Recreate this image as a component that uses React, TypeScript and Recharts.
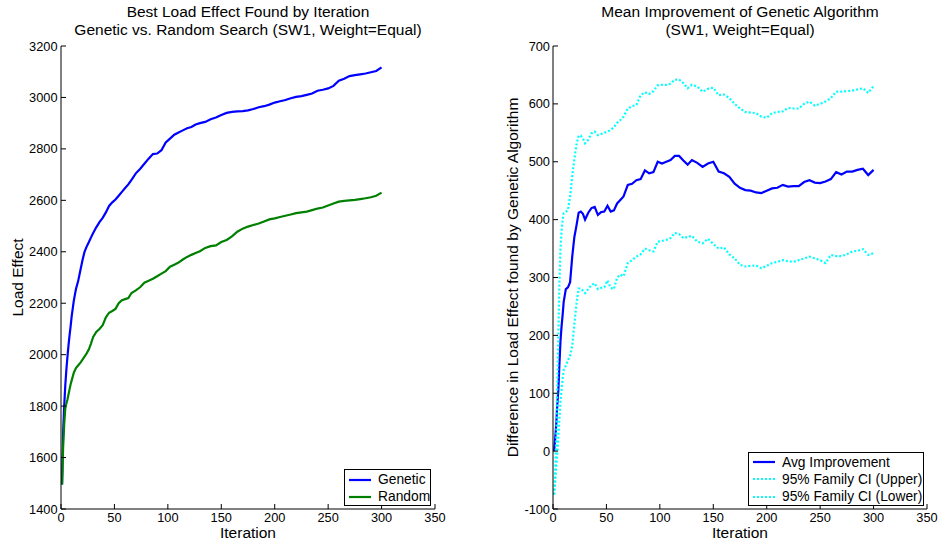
import * as React from "react"
import { LineChart, Line, XAxis, YAxis, Legend } from "recharts"

// iteration numbers where the curves were sampled
const iterations = [
  1, 2, 3, 4, 5, 6, 7, 8, 9, 10,
  12, 14, 16, 18, 20, 22, 24, 26, 28, 30,
  33, 36, 39, 42, 45, 48, 51, 54, 57, 60,
  63, 66, 70, 74, 78, 82, 86, 90, 94, 98,
  102, 106, 110, 114, 118, 122, 126, 130,
  135, 140, 145, 150, 155, 160, 165, 170, 175, 180,
  185, 190, 195, 200, 205, 210, 215, 220, 225, 230,
  235, 240, 245, 250, 255, 260, 265, 270, 275, 280,
  285, 290, 295, 300,
]

const genetic = [
  1495, 1700, 1800, 1880, 1940, 1990, 2035, 2075, 2110, 2150,
  2210, 2255, 2285, 2325, 2365, 2400, 2420, 2437, 2455, 2472,
  2495, 2515, 2532, 2553, 2578, 2592, 2603, 2618, 2633, 2648,
  2662, 2680, 2705, 2722, 2742, 2762, 2780, 2782, 2795, 2825,
  2840, 2855, 2864, 2872, 2880, 2885, 2895, 2900,
  2905, 2915, 2922, 2932, 2940, 2944, 2946, 2947, 2950, 2955,
  2962, 2966, 2972, 2980, 2985, 2990, 2997, 3002, 3005, 3010,
  3015, 3026, 3030, 3035, 3045, 3065, 3073, 3083, 3087, 3090,
  3093, 3098, 3103, 3117,
]

const random = [
  1495, 1640, 1730, 1790, 1810, 1825, 1845, 1865, 1885, 1900,
  1930, 1948, 1958, 1968, 1980, 1992, 2005, 2020, 2042, 2068,
  2088, 2100, 2115, 2145, 2163, 2170, 2178, 2200, 2212, 2216,
  2220, 2240, 2250, 2262, 2280, 2287, 2295, 2305, 2315, 2325,
  2342, 2350, 2358, 2370, 2380, 2388, 2395, 2402,
  2415, 2422, 2425, 2438, 2446, 2460, 2478, 2490, 2498, 2504,
  2510, 2518, 2526, 2530, 2535, 2540, 2545, 2550, 2553, 2556,
  2562, 2568, 2572, 2580, 2588, 2595, 2598, 2600, 2602, 2605,
  2608, 2612, 2618, 2630,
]

const avgImprovement = [
  0, 20, 45, 80, 105, 150, 190, 215, 235, 258,
  280, 283, 292, 336, 370, 390, 412, 414, 410, 400,
  412, 420, 422, 408, 413, 414, 424, 414, 416, 428,
  434, 440, 460, 462, 468, 470, 485, 480, 482, 500,
  497, 500, 503, 510, 510, 502, 495, 503,
  498, 491, 497, 500, 483, 480, 474, 462, 455, 451,
  450, 447, 446, 450, 454, 455, 460, 457, 458, 458,
  465, 468, 464, 463, 466, 470, 482, 478, 483, 483,
  486, 488, 477, 486,
]

const ciUpper = [
  -75, -40, 20, 110, 200, 290, 350, 380, 400, 411,
  413, 417, 440, 475, 505, 530, 545, 545, 540, 532,
  538, 549, 552, 546, 548, 550, 552, 555, 560, 567,
  572, 578, 592, 596, 598, 615, 620, 617, 622, 632,
  633, 633, 635, 642, 642, 636, 627, 633,
  630, 621, 626, 628, 615, 616, 610, 600, 592, 586,
  585, 584, 578, 576, 584, 586, 587, 593, 592, 592,
  600, 604, 597, 600, 604, 610, 621, 621, 622, 623,
  625, 627, 619, 631,
]

const ciLower = [
  -75, -55, -25, -5, 25, 55, 85, 105, 125, 140,
  148, 157, 165, 182, 220, 255, 281, 281, 277, 273,
  280, 287, 290, 280, 282, 283, 295, 282, 280, 300,
  305, 302, 325, 330, 336, 340, 350, 347, 345, 362,
  363, 365, 368, 377, 375, 368, 370, 372,
  362, 359, 367, 358, 350, 352, 340, 333, 322, 319,
  320, 321, 316, 320, 325, 327, 330, 328, 327, 330,
  333, 336, 333, 330, 325, 339, 337, 337, 340, 345,
  346, 349, 339, 342,
]

const xTicks = [0, 50, 100, 150, 200, 250, 300, 350]
const loadTicks = [1400, 1600, 1800, 2000, 2200, 2400, 2600, 2800, 3000, 3200]
const diffTicks = [-100, 0, 100, 200, 300, 400, 500, 600, 700]

const searchData = iterations.map((iter, i) => ({ iter, genetic: genetic[i], random: random[i] }))
const diffData = iterations.map((iter, i) => ({
  iter,
  avg: avgImprovement[i],
  upper: ciUpper[i],
  lower: ciLower[i],
}))

const FONT = "'Liberation Sans', Arial, sans-serif"
const tickStyle = { fill: "#000", fontSize: 12.8 }
const axisStroke = { stroke: "#000" }
const labelStyle = { fill: "#000", fontSize: 15.5, textAnchor: "middle" as const }
const blank = () => ""

function BoxLegend({ payload, rowHeight, padTop, order }: any) {
  const items = [...(payload || [])].sort(
    (a: any, b: any) => order.indexOf(a.dataKey) - order.indexOf(b.dataKey)
  )
  return (
    <div
      style={{
        boxSizing: "border-box",
        border: "1px solid #000",
        background: "#fff",
        paddingTop: padTop,
        fontFamily: FONT,
        fontSize: 13.8,
        color: "#000",
        width: "100%",
        height: "100%",
      }}
    >
      {items.map((entry: any) => (
        <div key={entry.value} style={{ display: "flex", alignItems: "center", height: rowHeight }}>
          <svg width={29} height={6} style={{ marginLeft: 4, flex: "none" }}>
            <line
              x1={0}
              x2={22}
              y1={3}
              y2={3}
              stroke={entry.color}
              strokeWidth={2.2}
              strokeDasharray={entry.payload?.strokeDasharray}
            />
          </svg>
          <span style={{ whiteSpace: "nowrap" }}>{entry.value}</span>
        </div>
      ))}
    </div>
  )
}

function Title({ lines, center }: { lines: string[]; center: number }) {
  return (
    <div
      style={{
        position: "absolute",
        left: center - 220,
        width: 440,
        top: 3,
        textAlign: "center",
        fontSize: 15.5,
        lineHeight: "18px",
        color: "#000",
      }}
    >
      {lines.map((l) => (
        <div key={l}>{l}</div>
      ))}
    </div>
  )
}

export default function App() {
  return (
    <div
      style={{
        position: "absolute",
        left: 0,
        top: 0,
        width: 940,
        height: 544,
        background: "#fff",
        fontFamily: FONT,
        overflow: "hidden",
      }}
    >
      <Title lines={["Best Load Effect Found by Iteration", "Genetic vs. Random Search (SW1, Weight=Equal)"]} center={248} />
      <Title lines={["Mean Improvement of Genetic Algorithm", "(SW1, Weight=Equal)"]} center={740} />

      <div style={{ position: "absolute", left: 0, top: 0 }}>
        <LineChart width={470} height={544} data={searchData} margin={{ top: 46, right: 35, bottom: 0, left: 0 }}>
          <XAxis
            dataKey="iter"
            type="number"
            domain={[0, 350]}
            ticks={xTicks}
            interval={0}
            height={35}
            tickSize={-5}
            tickMargin={9}
            tick={tickStyle}
            axisLine={axisStroke}
            tickLine={axisStroke}
            label={{ value: "Iteration", position: "insideBottom", offset: 6, style: labelStyle }}
          />
          <XAxis
            xAxisId="top"
            orientation="top"
            type="number"
            domain={[0, 350]}
            ticks={xTicks}
            interval={0}
            height={0}
            tickSize={-5}
            tickFormatter={blank}
            axisLine={axisStroke}
            tickLine={axisStroke}
          />
          <YAxis
            type="number"
            domain={[1400, 3200]}
            ticks={loadTicks}
            interval={0}
            width={61}
            tickSize={-5}
            tickMargin={8.5}
            tick={tickStyle}
            axisLine={axisStroke}
            tickLine={axisStroke}
            label={{ value: "Load Effect", angle: -90, position: "insideLeft", offset: 17.5, style: labelStyle }}
          />
          <YAxis
            yAxisId="right"
            orientation="right"
            type="number"
            domain={[1400, 3200]}
            ticks={loadTicks}
            interval={0}
            width={0}
            tickSize={-5}
            tickFormatter={blank}
            axisLine={axisStroke}
            tickLine={axisStroke}
          />
          <Line
            dataKey="genetic"
            name="Genetic"
            stroke="#0000ff"
            strokeWidth={2.2}
            dot={false}
            type="linear"
            isAnimationActive={false}
          />
          <Line
            dataKey="random"
            name="Random"
            stroke="#008000"
            strokeWidth={2.2}
            dot={false}
            type="linear"
            isAnimationActive={false}
          />
          <Legend
            layout="vertical"
            align="center"
            verticalAlign="middle"
            wrapperStyle={{ left: 344, top: 469, width: 87, height: 37 }}
            content={(props: any) => (
              <BoxLegend {...props} rowHeight={17} padTop={1} order={["genetic", "random"]} />
            )}
          />
        </LineChart>
      </div>

      <div style={{ position: "absolute", left: 470, top: 0 }}>
        <LineChart width={470} height={544} data={diffData} margin={{ top: 46, right: 13, bottom: 0, left: 0 }}>
          <XAxis
            dataKey="iter"
            type="number"
            domain={[0, 350]}
            ticks={xTicks}
            interval={0}
            height={35}
            tickSize={-5}
            tickMargin={9}
            tick={tickStyle}
            axisLine={axisStroke}
            tickLine={axisStroke}
            label={{ value: "Iteration", position: "insideBottom", offset: 6, style: labelStyle }}
          />
          <XAxis
            xAxisId="top"
            orientation="top"
            type="number"
            domain={[0, 350]}
            ticks={xTicks}
            interval={0}
            height={0}
            tickSize={-5}
            tickFormatter={blank}
            axisLine={axisStroke}
            tickLine={axisStroke}
          />
          <YAxis
            type="number"
            domain={[-100, 700]}
            ticks={diffTicks}
            interval={0}
            width={83}
            tickSize={-5}
            tickMargin={8}
            tick={tickStyle}
            axisLine={axisStroke}
            tickLine={axisStroke}
            label={{
              value: "Difference in Load Effect found by Genetic Algorithm",
              angle: -90,
              position: "insideLeft",
              offset: 42.5,
              style: labelStyle,
            }}
          />
          <YAxis
            yAxisId="right"
            orientation="right"
            type="number"
            domain={[-100, 700]}
            ticks={diffTicks}
            interval={0}
            width={0}
            tickSize={-5}
            tickFormatter={blank}
            axisLine={axisStroke}
            tickLine={axisStroke}
          />
          <Line
            dataKey="avg"
            name="Avg Improvement"
            stroke="#0000ff"
            strokeWidth={2.2}
            dot={false}
            type="linear"
            isAnimationActive={false}
          />
          <Line
            dataKey="upper"
            name="95% Family CI (Upper)"
            stroke="#00ffff"
            strokeWidth={2.2}
            strokeDasharray="2 2"
            dot={false}
            type="linear"
            isAnimationActive={false}
          />
          <Line
            dataKey="lower"
            name="95% Family CI (Lower)"
            stroke="#00ffff"
            strokeWidth={2.2}
            strokeDasharray="2 2"
            dot={false}
            type="linear"
            isAnimationActive={false}
          />
          <Legend
            layout="vertical"
            align="center"
            verticalAlign="middle"
            wrapperStyle={{ left: 278, top: 452, width: 176, height: 54 }}
            content={(props: any) => (
              <BoxLegend {...props} rowHeight={17.3} padTop={0.5} order={["avg", "upper", "lower"]} />
            )}
          />
        </LineChart>
      </div>
    </div>
  )
}
